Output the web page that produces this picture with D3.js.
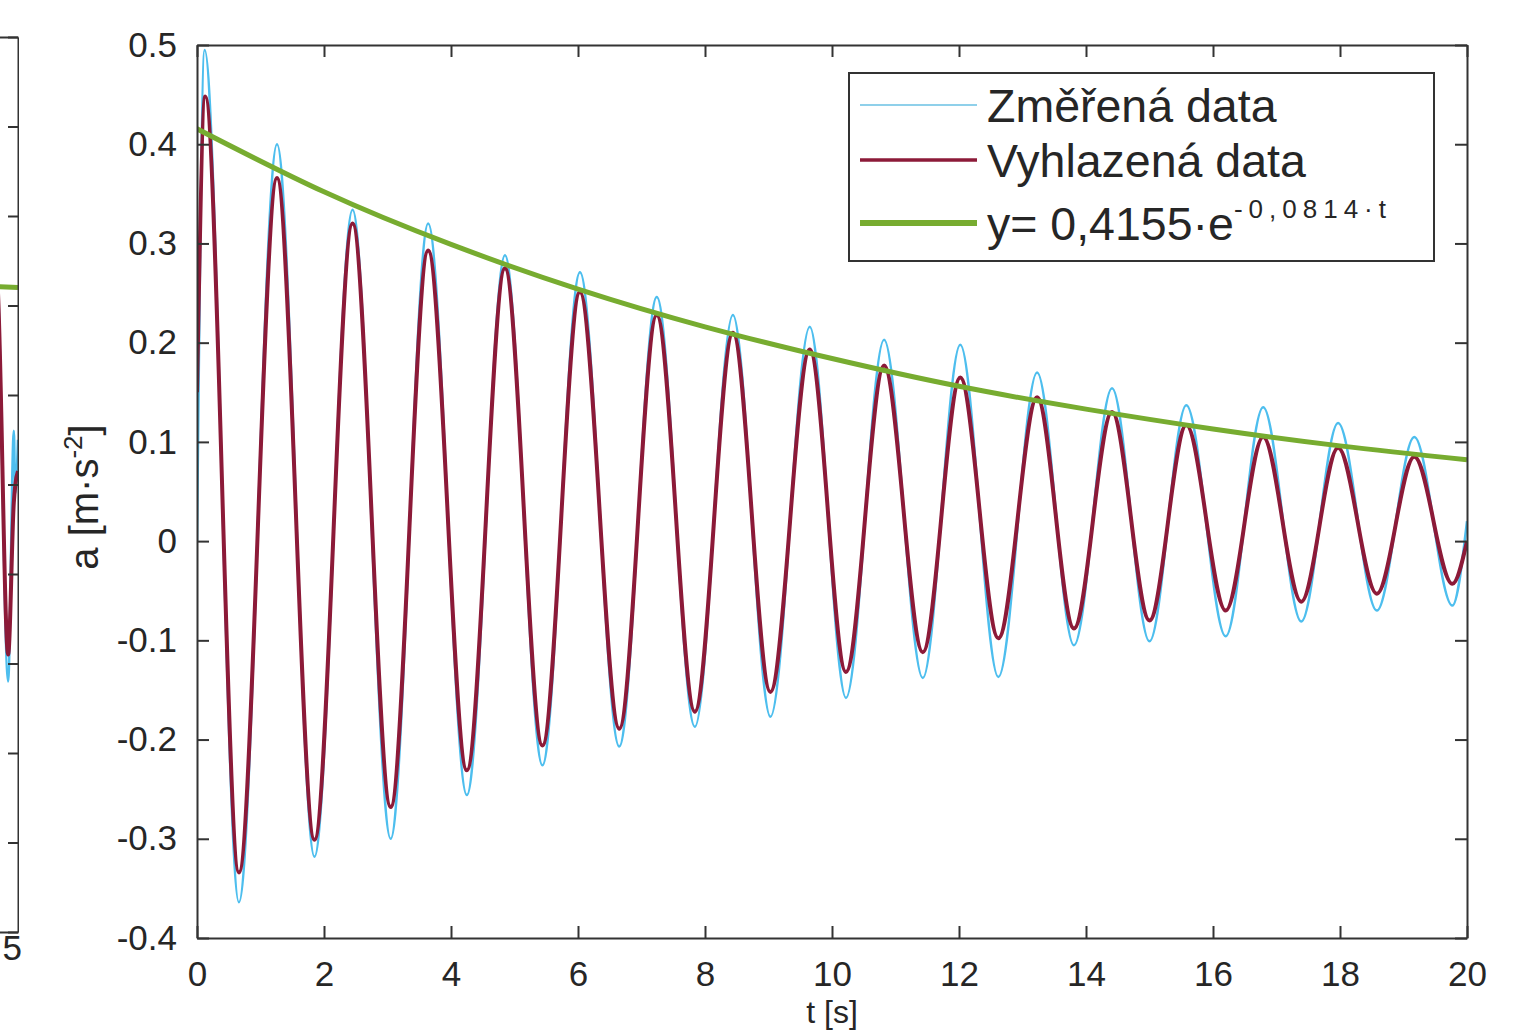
<!DOCTYPE html>
<html>
<head>
<meta charset="utf-8">
<script src="https://cdn.jsdelivr.net/npm/d3@7"></script>
<style>
  body { margin: 0; background: #fff; }
  svg { display: block; font-family: "Liberation Sans", Arial, sans-serif; }
  .axis path, .axis line { stroke: #333; stroke-width: 2; }
  .axis text { fill: #262626; font-size: 35px; font-family: "Liberation Sans", Arial, sans-serif; }
</style>
</head>
<body>
<div id="chart"></div>
<script>
    var w = 1523;
    var h = 1031;
    var margin = {
        top: 45,
        right: 56,
        bottom: 93,
        left: 197
    };
    var innerW = w - margin.left - margin.right,
        innerH = h - margin.top - margin.bottom;

    // osy
    var xTicks = [0, 2, 4, 6, 8, 10, 12, 14, 16, 18, 20];
    var yTicks = [-0.4, -0.3, -0.2, -0.1, 0, 0.1, 0.2, 0.3, 0.4, 0.5];
    var yTickLabels = ['-0.4', '-0.3', '-0.2', '-0.1', '0', '0.1', '0.2', '0.3', '0.4', '0.5'];

    // vyhlazena data (extremy)
    var smoothT = [0, 0.13, 0.66, 1.26, 1.85, 2.45, 3.05, 3.64, 4.25, 4.85, 5.44, 6.03, 6.65, 7.24, 7.84, 8.44, 9.03, 9.65,
                   10.22, 10.82, 11.43, 12.02, 12.62, 13.23, 13.81, 14.41, 15.0, 15.58, 16.2, 16.79, 17.39, 17.97, 18.58, 19.17, 19.77, 20];
    var smoothA = [0.15, 0.448, -0.334, 0.366, -0.301, 0.32, -0.268, 0.293, -0.231, 0.275, -0.206, 0.251, -0.189, 0.228, -0.172, 0.21, -0.152, 0.193,
                   -0.132, 0.177, -0.112, 0.165, -0.098, 0.145, -0.088, 0.13, -0.08, 0.117, -0.07, 0.105, -0.061, 0.094, -0.053, 0.085, -0.043, 0.0];

    // zmerena data (spicky sumu)
    var measuredT = [0, 0.12, 0.66, 1.26, 1.85, 2.45, 3.05, 3.64, 4.25, 4.85, 5.44, 6.03, 6.65, 7.24, 7.84, 8.44, 9.03, 9.65,
                     10.22, 10.82, 11.43, 12.02, 12.62, 13.23, 13.81, 14.41, 15.0, 15.58, 16.2, 16.79, 17.39, 17.97, 18.58, 19.17, 19.77, 20];
    var measuredA = [0.0, 0.495, -0.364, 0.40, -0.318, 0.334, -0.30, 0.32, -0.256, 0.288, -0.226, 0.271, -0.207, 0.246, -0.187, 0.228, -0.177, 0.216,
                     -0.158, 0.203, -0.138, 0.198, -0.137, 0.17, -0.105, 0.154, -0.101, 0.137, -0.096, 0.135, -0.081, 0.119, -0.07, 0.105, -0.065, 0.02];

    // exponencialni obalka
    var fitT = [0, 2, 4, 6, 8, 10, 12, 14, 16, 18, 20];
    var fitA = [0.4155, 0.352, 0.299, 0.254, 0.216, 0.184, 0.156, 0.133, 0.113, 0.096, 0.082];

    var legendLabels = ['Změřená data', 'Vyhlazená data', 'y= 0,4155·e'];
    var legendSup = '-0,0814·t';
    var colors = ['#4dbeee', '#8c1a38', '#77ac30'];

    // kousek sousedniho grafu vlevo
    var leftT = [4.9, 4.945, 4.974, 4.989, 4.993, 5.0];
    var leftSmooth = [0.30, 0.23, -0.19, -0.02, 0.0, 0.015];
    var leftMeasured = [0.30, 0.24, -0.22, 0.06, -0.01, 0.05];
    var leftFitT = [4.9, 5.0];
    var leftFitA = [0.222, 0.22];
    var leftYTicks = [-0.5, -0.4, -0.3, -0.2, -0.1, 0, 0.1, 0.2, 0.3, 0.4, 0.5];
    var leftXTicks = [5];
    var leftXTickLabels = ['5'];

    function zip(a, b) {
        return a.map(function(d, i) { return [d, b[i]]; });
    }

    var svg = d3.select('#chart').append('svg')
        .attr('width', w)
        .attr('height', h);

    svg.append('rect').attr('width', w).attr('height', h).attr('fill', '#fff');

    // ---- levy graf (oriznuty) ----
    var lx = d3.scaleLinear().domain([4.9, 5.0]).range([-20, 18]);
    var ly = d3.scaleLinear().domain([-0.5, 0.5]).range([932, 37]);

    svg.append('clipPath').attr('id', 'clipLeft')
        .append('rect').attr('x', 0).attr('y', 30).attr('width', 19).attr('height', 910);

    var left = svg.append('g').attr('clip-path', 'url(#clipLeft)');

    var lineLeft = d3.line()
        .x(function(d) { return lx(d[0]); })
        .y(function(d) { return ly(d[1]); })
        .curve(d3.curveMonotoneX);

    left.append('path').datum(zip(leftFitT, leftFitA))
        .attr('d', lineLeft).attr('fill', 'none')
        .attr('stroke', colors[2]).attr('stroke-width', 5);
    left.append('path').datum(zip(leftT, leftMeasured))
        .attr('d', lineLeft).attr('fill', 'none')
        .attr('stroke', colors[0]).attr('stroke-width', 2.5);
    left.append('path').datum(zip(leftT, leftSmooth))
        .attr('d', lineLeft).attr('fill', 'none')
        .attr('stroke', colors[1]).attr('stroke-width', 4);

    left.append('g').attr('class', 'axis')
        .attr('transform', 'translate(18,0)')
        .call(d3.axisRight(ly).tickValues(leftYTicks).tickSizeInner(-10).tickSizeOuter(0).tickFormat(''));
    left.append('g').attr('class', 'axis')
        .attr('transform', 'translate(0,932)')
        .call(d3.axisBottom(lx).tickValues([]).tickSizeOuter(0));
    left.append('g').attr('class', 'axis')
        .attr('transform', 'translate(0,37)')
        .call(d3.axisTop(lx).tickValues([]).tickSizeOuter(0));

    svg.append('g').attr('class', 'axis')
        .attr('transform', 'translate(0,932)')
        .call(d3.axisBottom(lx).tickValues(leftXTicks).tickSize(0).tickPadding(3)
            .tickFormat(function(d, i) { return leftXTickLabels[i]; }))
        .call(function(g) {
            g.select('.domain').remove();
            g.selectAll('text').attr('text-anchor', 'end').attr('dx', '0.1em');
        });

    // ---- hlavni graf ----
    var x = d3.scaleLinear().domain([0, 20]).range([0, innerW]);
    var y = d3.scaleLinear().domain([-0.4, 0.5]).range([innerH, 0]);

    var g = svg.append('g')
        .attr('transform', 'translate(' + [margin.left, margin.top] + ')');

    g.append('clipPath').attr('id', 'clipMain')
        .append('rect').attr('width', innerW).attr('height', innerH);

    var line = d3.line()
        .x(function(d) { return x(d[0]); })
        .y(function(d) { return y(d[1]); })
        .curve(d3.curveMonotoneX);

    var plot = g.append('g').attr('clip-path', 'url(#clipMain)');

    plot.append('path').datum(zip(measuredT, measuredA))
        .attr('d', line).attr('fill', 'none')
        .attr('stroke', colors[0]).attr('stroke-width', 2.5);

    plot.append('path').datum(zip(smoothT, smoothA))
        .attr('d', line).attr('fill', 'none')
        .attr('stroke', colors[1]).attr('stroke-width', 4);

    plot.append('path').datum(zip(fitT, fitA))
        .attr('d', line.curve(d3.curveNatural)).attr('fill', 'none')
        .attr('stroke', colors[2]).attr('stroke-width', 5);

    // osy - ramecek s ticky dovnitr
    g.append('g').attr('class', 'x axis')
        .attr('transform', 'translate(' + [0, innerH] + ')')
        .call(d3.axisBottom(x).tickValues(xTicks).tickSizeInner(-12).tickSizeOuter(0).tickPadding(23));
    g.append('g').attr('class', 'x axis')
        .call(d3.axisTop(x).tickValues(xTicks).tickSizeInner(-12).tickSizeOuter(0).tickFormat(''));
    g.append('g').attr('class', 'y axis')
        .call(d3.axisLeft(y).tickValues(yTicks).tickSizeInner(-12).tickSizeOuter(0).tickPadding(20)
            .tickFormat(function(d, i) { return yTickLabels[i]; }));
    g.append('g').attr('class', 'y axis')
        .attr('transform', 'translate(' + [innerW, 0] + ')')
        .call(d3.axisRight(y).tickValues(yTicks).tickSizeInner(-12).tickSizeOuter(0).tickFormat(''));

    // popisky os
    var yLabel = svg.append('text')
        .attr('transform', 'translate(98,497) rotate(-90)')
        .attr('text-anchor', 'middle')
        .style('font-size', '40px')
        .style('fill', '#262626');
    yLabel.append('tspan').text('a [m·s');
    yLabel.append('tspan').attr('dy', -16).style('font-size', '26px').text('-2');
    yLabel.append('tspan').attr('dy', 16).text(']');

    svg.append('text')
        .attr('x', margin.left + x(10))
        .attr('y', 1023)
        .attr('text-anchor', 'middle')
        .style('font-size', '32px')
        .style('fill', '#262626')
        .text('t [s]');

    // legenda
    var legend = svg.append('g').attr('class', 'legend');
    legend.append('rect')
        .attr('x', 849).attr('y', 73).attr('width', 585).attr('height', 188)
        .attr('fill', '#fff').attr('stroke', '#333').attr('stroke-width', 2);

    var rowY = [105, 160, 223];
    var rowW = [2, 3.5, 6];
    var item = legend.selectAll('.item')
        .data(legendLabels)
        .enter().append('g')
        .attr('class', 'item')
        .attr('transform', function(d, i) { return 'translate(' + [860, rowY[i]] + ')'; });

    item.append('line')
        .attr('x1', 0).attr('x2', 117)
        .attr('stroke', function(d, i) { return i === 0 ? '#8fd0ea' : colors[i]; })
        .attr('stroke-width', function(d, i) { return rowW[i]; });

    var txt = item.append('text')
        .attr('x', 127)
        .attr('y', 17)
        .style('font-size', '46.5px')
        .style('fill', '#262626')
        .text(function(d) { return d; });

    txt.filter(function(d, i) { return i === 2; })
        .append('tspan')
        .attr('dy', -22)
        .style('font-size', '26px')
        .style('letter-spacing', '6px')
        .text(legendSup);
</script>
</body>
</html>
